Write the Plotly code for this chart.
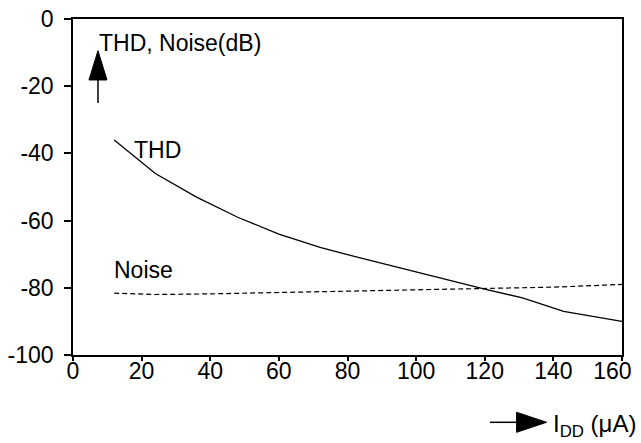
import plotly.graph_objects as go

# Data
thd_x = [12, 24, 36, 48, 60, 72, 84, 96, 108, 120, 131, 143, 160]
thd_y = [-36, -46, -53, -59, -64, -68, -71.2, -74.3, -77.3, -80.4, -83, -87, -90]
noise_x = [12, 24, 40, 60, 80, 100, 120, 140, 160]
noise_y = [-81.6, -82, -81.8, -81.4, -81, -80.7, -80.3, -79.8, -79]
x_ticks = [0, 20, 40, 60, 80, 100, 120, 140, 160]
x_tick_labels = ["0", "20", "40", "60", "80", "100", "120", "140", "160\u00a0\u00a0\u00a0"]
y_ticks = [0, -20, -40, -60, -80, -100]
y_tick_labels = ["0", "-20", "-40", "-60", "-80", "-100"]

FONT = "Liberation Sans, Arial, sans-serif"
FS = 23

fig = go.Figure()
fig.add_trace(go.Scatter(x=thd_x, y=thd_y, mode="lines",
                         line=dict(color="black", width=1.3), showlegend=False))
fig.add_trace(go.Scatter(x=noise_x, y=noise_y, mode="lines",
                         line=dict(color="black", width=1.2, dash="5px,3px"),
                         showlegend=False))

axis_common = dict(showline=True, linecolor="black", linewidth=1.5, mirror=True,
                   ticks="outside", tickwidth=1.5, tickcolor="black",
                   showgrid=False, zeroline=False, automargin=False,
                   ticklabeloverflow="allow",
                   tickfont=dict(family=FONT, size=FS, color="black"))

fig.update_xaxes(range=[0, 160], tickvals=x_ticks, ticklen=4,
                 ticktext=x_tick_labels, ticklabelstandoff=-9,
                 **axis_common)
fig.update_yaxes(range=[-100, 0], tickvals=y_ticks, ticktext=y_tick_labels,
                 ticklen=7, ticklabelstandoff=6, **axis_common)

# Text labels
fig.add_annotation(x=7, y=-7.2, xref="x", yref="y", text="THD, Noise(dB)",
                   showarrow=False, xanchor="left", yanchor="middle",
                   font=dict(family=FONT, size=FS, color="black"))
fig.add_annotation(x=17.1, y=-39, xref="x", yref="y", text="THD",
                   showarrow=False, xanchor="left", yanchor="middle",
                   font=dict(family=FONT, size=FS, color="black"))
fig.add_annotation(x=11.5, y=-74.8, xref="x", yref="y", text="Noise",
                   showarrow=False, xanchor="left", yanchor="middle",
                   font=dict(family=FONT, size=FS, color="black"))
fig.add_annotation(x=0.871, y=-0.21, xref="paper", yref="paper",
                   text="I<sub>DD</sub> (\u03bcA)",
                   showarrow=False, xanchor="left", yanchor="middle",
                   font=dict(family=FONT, size=24, color="black"))

# Up arrow (y-axis indicator)
fig.add_shape(type="line", xref="paper", yref="paper",
              x0=0.0455, x1=0.0455, y0=0.75, y1=0.83,
              line=dict(color="black", width=1.5))
fig.add_shape(type="path", xref="paper", yref="paper",
              path="M 0.0291 0.8185 L 0.0619 0.8185 L 0.0455 0.9057 Z",
              fillcolor="black", line=dict(color="black", width=1))

# Right arrow (x-axis indicator)
fig.add_shape(type="line", xref="paper", yref="paper",
              x0=0.7596, x1=0.81, y0=-0.2003, y1=-0.2003,
              line=dict(color="black", width=1.5))
fig.add_shape(type="path", xref="paper", yref="paper",
              path="M 0.808 -0.1705 L 0.808 -0.2301 L 0.8628 -0.2003 Z",
              fillcolor="black", line=dict(color="black", width=1))

fig.update_layout(width=641, height=443, template="none",
                  margin=dict(l=73, r=19, t=19, b=88),
                  paper_bgcolor="white", plot_bgcolor="white",
                  font=dict(family=FONT, size=FS, color="black"))

fig.write_html("out.html", config={"displayModeBar": False},
               post_script="document.body.style.margin='0';"
                           "document.body.style.overflow='hidden';")
